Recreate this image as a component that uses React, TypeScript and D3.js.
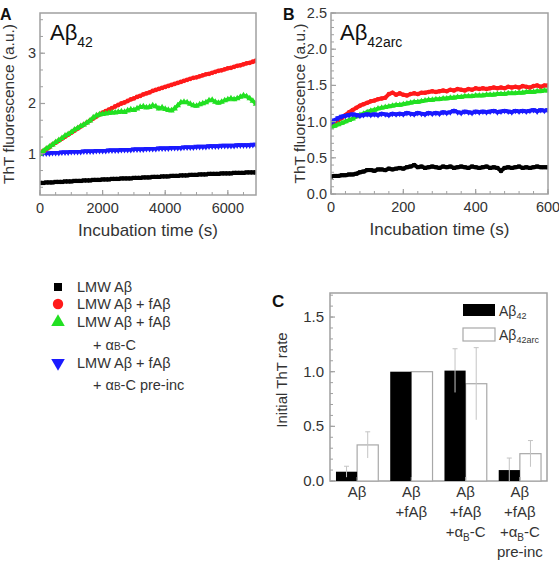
import React from 'react';
import * as d3 from 'd3';

const FONT = '"Liberation Sans", Arial, Helvetica, sans-serif';
const TXT = '#333';
const FRAME = '#a0a0a0';

// ---------- Panel A (Aβ42), sampled every 100 s ----------
const stepA = 100;
const blackA = [0.42,0.42,0.43,0.43,0.43,0.44,0.44,0.44,0.45,0.45,0.45,0.46,0.46,0.46,0.47,0.47,0.47,0.48,0.48,0.48,0.49,0.49,0.49,0.50,0.50,0.50,0.51,0.51,0.51,0.51,0.52,0.52,0.52,0.53,0.53,0.53,0.54,0.54,0.54,0.55,0.55,0.55,0.56,0.56,0.56,0.57,0.57,0.57,0.58,0.58,0.58,0.59,0.59,0.59,0.60,0.60,0.60,0.60,0.61,0.61,0.61,0.61,0.62,0.62,0.62,0.62,0.63,0.63,0.63,0.63];
const redA = [1.00,1.05,1.09,1.13,1.18,1.22,1.26,1.30,1.34,1.38,1.42,1.46,1.50,1.54,1.58,1.62,1.66,1.70,1.74,1.78,1.82,1.85,1.88,1.91,1.94,1.97,2.00,2.02,2.05,2.08,2.10,2.13,2.15,2.18,2.20,2.22,2.25,2.27,2.29,2.31,2.33,2.35,2.37,2.39,2.41,2.43,2.45,2.47,2.49,2.51,2.52,2.54,2.56,2.58,2.59,2.61,2.63,2.65,2.66,2.68,2.70,2.71,2.73,2.75,2.76,2.78,2.80,2.81,2.83,2.85];
const greenA = [1.00,1.05,1.10,1.14,1.18,1.23,1.27,1.31,1.36,1.39,1.43,1.48,1.51,1.55,1.58,1.62,1.66,1.72,1.76,1.78,1.79,1.80,1.81,1.82,1.82,1.83,1.84,1.83,1.86,1.88,1.87,1.90,1.93,1.94,1.92,1.93,1.96,1.94,1.90,1.92,1.89,1.87,1.86,1.90,1.96,2.02,2.03,2.02,1.99,1.96,1.95,1.98,2.00,2.02,2.06,2.07,2.03,2.01,2.03,2.06,2.08,2.10,2.08,2.10,2.13,2.16,2.14,2.10,2.05,1.99];
const blueA = [1.00,1.01,1.01,1.01,1.02,1.02,1.02,1.03,1.03,1.03,1.04,1.04,1.04,1.04,1.05,1.05,1.05,1.05,1.06,1.06,1.06,1.06,1.07,1.07,1.07,1.07,1.08,1.08,1.08,1.08,1.09,1.09,1.09,1.09,1.10,1.10,1.10,1.10,1.11,1.11,1.11,1.11,1.12,1.12,1.12,1.12,1.13,1.13,1.13,1.13,1.14,1.14,1.14,1.14,1.15,1.15,1.15,1.15,1.16,1.16,1.16,1.16,1.16,1.17,1.17,1.17,1.17,1.17,1.18,1.18];
const xTicksA = [0, 2000, 4000, 6000];
const yTicksA = [1, 2, 3];

// ---------- Panel B (Aβ42arc), sampled every 10 s ----------
const stepB = 10;
const blackB = [0.24,0.25,0.25,0.26,0.26,0.27,0.27,0.28,0.30,0.31,0.33,0.33,0.32,0.34,0.34,0.33,0.35,0.34,0.35,0.36,0.35,0.37,0.38,0.40,0.37,0.38,0.36,0.37,0.38,0.37,0.36,0.38,0.37,0.38,0.36,0.37,0.38,0.37,0.36,0.38,0.37,0.36,0.37,0.38,0.36,0.37,0.36,0.32,0.36,0.37,0.36,0.37,0.38,0.36,0.37,0.36,0.37,0.38,0.37,0.37,0.37];
const redB = [0.97,0.99,1.02,1.05,1.09,1.13,1.16,1.19,1.22,1.24,1.26,1.28,1.29,1.31,1.32,1.33,1.38,1.40,1.37,1.39,1.37,1.36,1.38,1.39,1.38,1.40,1.40,1.41,1.42,1.41,1.42,1.43,1.42,1.44,1.43,1.45,1.44,1.43,1.45,1.44,1.46,1.45,1.46,1.45,1.46,1.47,1.46,1.47,1.46,1.48,1.47,1.48,1.47,1.49,1.48,1.47,1.49,1.50,1.48,1.50,1.50];
const greenB = [0.92,0.94,0.96,0.98,1.00,1.02,1.04,1.07,1.09,1.11,1.13,1.15,1.16,1.18,1.19,1.20,1.21,1.22,1.23,1.23,1.24,1.25,1.26,1.27,1.27,1.28,1.29,1.30,1.30,1.31,1.31,1.32,1.32,1.33,1.33,1.34,1.34,1.35,1.35,1.35,1.36,1.36,1.36,1.37,1.37,1.37,1.38,1.38,1.38,1.39,1.39,1.39,1.40,1.40,1.41,1.41,1.41,1.42,1.42,1.43,1.43];
const blueB = [0.98,1.02,1.05,1.07,1.08,1.09,1.10,1.09,1.08,1.09,1.10,1.09,1.10,1.09,1.11,1.10,1.09,1.11,1.10,1.11,1.10,1.12,1.11,1.10,1.12,1.11,1.10,1.12,1.11,1.12,1.11,1.13,1.12,1.13,1.15,1.13,1.12,1.14,1.13,1.12,1.14,1.13,1.14,1.13,1.14,1.15,1.13,1.14,1.15,1.14,1.13,1.15,1.14,1.15,1.14,1.15,1.16,1.14,1.16,1.15,1.16];
const xTicksB = [0, 200, 400, 600];
const yTicksB = [0, 0.5, 1.0, 1.5, 2.0, 2.5];

// ---------- Panel C (initial ThT rate) ----------
const categoriesC = [['Aβ'], ['Aβ', '+fAβ'], ['Aβ', '+fAβ', '+α_B-C'], ['Aβ', '+fAβ', '+α_B-C', 'pre-inc']];
const rateAb42 = [0.085, 1.0, 1.01, 0.10];
const errAb42 = [0.05, 0, 0.2, 0.11];
const rateAb42arc = [0.33, 1.0, 0.89, 0.25];
const errAb42arc = [0.12, 0, 0.33, 0.12];
const yTicksC = [0, 0.5, 1.0, 1.5];

const seriesColors = { black: '#000000', red: '#ff1a1a', green: '#22e022', blue: '#1a1aff' };

type Ser = { values: number[]; color: string; shape: 'sq' | 'ci' | 'tu' | 'td' };

function symPath(shape: string, size: number) {
  const t = shape === 'sq' ? d3.symbolSquare : shape === 'ci' ? d3.symbolCircle : d3.symbolTriangle;
  return d3.symbol().type(t).size(size)() as string;
}

function SubLabel({ s, x, y, size, anchor, subSize, dy }: any) {
  // "_X" denotes a subscript character
  const parts = s.split('_');
  return (
    <text x={x} y={y} fontSize={size} textAnchor={anchor} fill={TXT} fontFamily={FONT}>
      {parts.map((p: string, i: number) =>
        i === 0 ? <tspan key={i}>{p}</tspan> : (
          <React.Fragment key={i}>
            <tspan fontSize={subSize} dy={dy}>{p[0]}</tspan>
            <tspan dy={-dy}>{p.slice(1)}</tspan>
          </React.Fragment>
        )
      )}
    </text>
  );
}

function LinePanel({ x0, x1, y0, y1, xDom, yDom, step, series, xTicks, yTicks, xMinor, yMinor, yFmt, markSize, lineW }: any) {
  const x = d3.scaleLinear().domain(xDom).range([x0, x1]);
  const y = d3.scaleLinear().domain(yDom).range([y1, y0]);
  const line = d3.line<number>().x((_, i) => x(i * step)).y((d) => y(d));
  const minorX = d3.range(xDom[0], xDom[1] + 1e-9, xMinor);
  const minorY = d3.range(Math.ceil(yDom[0] / yMinor) * yMinor, yDom[1] + 1e-9, yMinor);
  return (
    <g>
      <defs>
        <clipPath id={`clip${x0}`}>
          <rect x={x0} y={y0} width={x1 - x0} height={y1 - y0} />
        </clipPath>
      </defs>
      <g clipPath={`url(#clip${x0})`}>
        {series.map((s: Ser, k: number) => (
          <g key={k}>
            <path d={line(s.values) as string} fill="none" stroke={s.color} strokeWidth={lineW} />
            {s.values.map((v, i) => (
              <path key={i} d={symPath(s.shape, markSize)} fill={s.color}
                transform={`translate(${x(i * step)},${y(v)})${s.shape === 'td' ? ' rotate(180)' : ''}`} />
            ))}
          </g>
        ))}
      </g>
      <rect x={x0} y={y0} width={x1 - x0} height={y1 - y0} fill="none" stroke={FRAME} strokeWidth={1.5} />
      {minorX.map((t: number, i: number) => (
        <line key={'mx' + i} x1={x(t)} x2={x(t)} y1={y1} y2={y1 - 3} stroke={FRAME} strokeWidth={1} />
      ))}
      {minorY.map((t: number, i: number) => (
        <line key={'my' + i} x1={x0} x2={x0 + 3} y1={y(t)} y2={y(t)} stroke={FRAME} strokeWidth={1} />
      ))}
      {xTicks.map((t: number) => (
        <g key={'xt' + t}>
          <line x1={x(t)} x2={x(t)} y1={y1} y2={y1 - 5} stroke={FRAME} strokeWidth={1.2} />
          <text x={x(t)} y={y1 + 18} fontSize={14.5} textAnchor="middle" fill={TXT} fontFamily={FONT}>{t}</text>
        </g>
      ))}
      {yTicks.map((t: number) => (
        <g key={'yt' + t}>
          <line x1={x0} x2={x0 + 5} y1={y(t)} y2={y(t)} stroke={FRAME} strokeWidth={1.2} />
          <text x={x0 - 4} y={y(t) + 5} fontSize={14.5} textAnchor="end" fill={TXT} fontFamily={FONT}>{yFmt(t)}</text>
        </g>
      ))}
      <text x={(x0 + x1) / 2} y={y1 + 41} fontSize={17} textAnchor="middle" fill={TXT} fontFamily={FONT}>Incubation time (s)</text>
      <text transform={`translate(${x0 - 26},${(y0 + y1) / 2}) rotate(-90)`} fontSize={15.5} textAnchor="middle" fill={TXT} fontFamily={FONT}>ThT fluorescence (a.u.)</text>
    </g>
  );
}

function BarPanel() {
  const x0 = 330, x1 = 547, y0 = 293, y1 = 481;
  const xb = d3.scaleBand<number>().domain(categoriesC.map((_, i) => i)).range([x0, x1]).paddingInner(0.22).paddingOuter(0.11);
  const y = d3.scaleLinear().domain([0, 1.72]).range([y1, y0]);
  const bw = xb.bandwidth() / 2;
  const minorY = d3.range(0, 1.72, 0.1);
  const errCol = '#c4c4c4';
  const errBar = (cx: number, v: number, e: number, k: string) =>
    e > 0 ? (
      <g key={k}>
        <line x1={cx} x2={cx} y1={y(v + e)} y2={y(Math.max(0, v - e))} stroke={errCol} strokeWidth={1} />
        <line x1={cx - 2.5} x2={cx + 2.5} y1={y(v + e)} y2={y(v + e)} stroke={errCol} strokeWidth={1} />
      </g>
    ) : null;
  return (
    <g>
      <rect x={x0} y={y0} width={x1 - x0} height={y1 - y0} fill="none" stroke={FRAME} strokeWidth={1.5} />
      {minorY.map((t, i) => (
        <line key={'m' + i} x1={x0} x2={x0 + 3} y1={y(t)} y2={y(t)} stroke={FRAME} strokeWidth={1} />
      ))}
      {yTicksC.map((t) => (
        <g key={'yt' + t}>
          <line x1={x0} x2={x0 + 5} y1={y(t)} y2={y(t)} stroke={FRAME} strokeWidth={1.2} />
          <text x={x0 - 6} y={y(t) + 5} fontSize={15} textAnchor="end" fill={TXT} fontFamily={FONT}>{t.toFixed(1)}</text>
        </g>
      ))}
      {categoriesC.map((lines, i) => {
        const bx = xb(i) as number;
        const cx = bx + xb.bandwidth() / 2;
        return (
          <g key={'c' + i}>
            <rect x={bx + bw} y={y(rateAb42arc[i])} width={bw} height={y1 - y(rateAb42arc[i])} fill="#fff" stroke="#a8a8a8" strokeWidth={1.2} />
            <rect x={bx} y={y(rateAb42[i])} width={bw} height={y1 - y(rateAb42[i])} fill="#000" />
            {errBar(bx + bw / 2, rateAb42[i], errAb42[i], 'e1')}
            {errBar(bx + bw * 1.5, rateAb42arc[i], errAb42arc[i], 'e2')}
            <line x1={cx} x2={cx} y1={y1} y2={y1 - 4} stroke={FRAME} strokeWidth={1.2} />
            {lines.map((s, j) => (
              <SubLabel key={j} s={s} x={cx} y={y1 + 16 + j * 20} size={15} anchor="middle" subSize={10} dy={4} />
            ))}
          </g>
        );
      })}
      <text transform={`translate(${x0 - 43},380) rotate(-90)`} fontSize={15} textAnchor="middle" fill={TXT} fontFamily={FONT}>Initial ThT rate</text>
      {/* legend */}
      <rect x={463} y={304} width={32} height={12} fill="#000" />
      <text x={499} y={316} fontSize={14} fill={TXT} fontFamily={FONT}>Aβ<tspan fontSize={9} dy={3}>42</tspan></text>
      <rect x={463} y={328} width={32} height={13} fill="#fff" stroke="#a8a8a8" strokeWidth={1.2} />
      <text x={499} y={340} fontSize={14} fill={TXT} fontFamily={FONT}>Aβ<tspan fontSize={9} dy={3}>42arc</tspan></text>
      <text x={272} y={307} fontSize={17} fontWeight="bold" fill="#111" fontFamily={FONT}>C</text>
    </g>
  );
}

function LegendLeft() {
  const mx = 58, tx = 77, fs = 14.5;
  const items = [
    { shape: 'sq', color: seriesColors.black, y: 287, text: 'LMW Aβ' },
    { shape: 'ci', color: seriesColors.red, y: 304, text: 'LMW Aβ + fAβ' },
    { shape: 'tu', color: seriesColors.green, y: 322, text: 'LMW Aβ + fAβ' },
    { shape: 'td', color: seriesColors.blue, y: 363, text: 'LMW Aβ + fAβ' },
  ];
  return (
    <g fontFamily={FONT}>
      {items.map((it, i) => (
        <g key={i}>
          <path d={symPath(it.shape, it.shape === 'sq' ? 64 : it.shape === 'ci' ? 85 : 80)} fill={it.color}
            transform={`translate(${mx},${it.y})${it.shape === 'td' ? ' rotate(180)' : ''}`} />
          <text x={tx} y={it.y + 5} fontSize={fs} fill={TXT}>{it.text}</text>
        </g>
      ))}
      <text x={93} y={350} fontSize={fs} fill={TXT}>+ α<tspan fontSize={10}>B</tspan>-C</text>
      <text x={93} y={390} fontSize={fs} fill={TXT}>+ α<tspan fontSize={10}>B</tspan>-C pre-inc</text>
    </g>
  );
}

export default function App() {
  const seriesA: Ser[] = [
    { values: blackA, color: seriesColors.black, shape: 'sq' },
    { values: blueA, color: seriesColors.blue, shape: 'td' },
    { values: redA, color: seriesColors.red, shape: 'ci' },
    { values: greenA, color: seriesColors.green, shape: 'tu' },
  ];
  const seriesB: Ser[] = [
    { values: blackB, color: seriesColors.black, shape: 'sq' },
    { values: redB, color: seriesColors.red, shape: 'ci' },
    { values: greenB, color: seriesColors.green, shape: 'tu' },
    { values: blueB, color: seriesColors.blue, shape: 'td' },
  ];
  return (
    <svg width={559} height={562} style={{ position: 'absolute', left: 0, top: 0, background: '#fff' }} fontFamily={FONT}>
      <rect x={0} y={0} width={559} height={562} fill="#fff" />
      <LinePanel x0={40} x1={256} y0={13} y1={195} xDom={[0, 6900]} yDom={[0.18, 3.8]} step={stepA}
        series={seriesA} xTicks={xTicksA} yTicks={yTicksA} xMinor={500} yMinor={1 / 3}
        yFmt={(t: number) => String(t)} markSize={18} lineW={3.5} />
      <text x={50} y={40} fontSize={22} fill="#111" fontFamily={FONT}>Aβ<tspan fontSize={14} dy={7}>42</tspan></text>
      <text x={0} y={20} fontSize={16} fontWeight="bold" fill="#111" fontFamily={FONT}>A</text>

      <LinePanel x0={331} x1={548} y0={13} y1={194} xDom={[0, 600]} yDom={[0, 2.5]} step={stepB}
        series={seriesB} xTicks={xTicksB} yTicks={yTicksB} xMinor={40} yMinor={0.1}
        yFmt={(t: number) => t.toFixed(1)} markSize={16} lineW={4} />
      <text x={340} y={40} fontSize={22} fill="#111" fontFamily={FONT}>Aβ<tspan fontSize={14} dy={7}>42arc</tspan></text>
      <text x={283} y={20} fontSize={16} fontWeight="bold" fill="#111" fontFamily={FONT}>B</text>

      <LegendLeft />
      <BarPanel />
    </svg>
  );
}
